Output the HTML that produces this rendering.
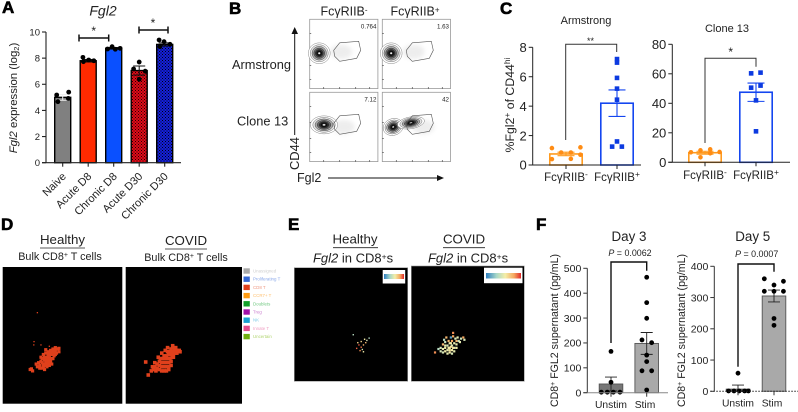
<!DOCTYPE html>
<html lang="en">
<head>
<meta charset="utf-8">
<title>Fgl2 figure</title>
<style>
html,body{margin:0;padding:0;background:#fff;width:798px;height:412px;overflow:hidden}
svg{display:block;filter:blur(.3px)}
text{font-family:"Liberation Sans",sans-serif;fill:#222}
.tag{font-weight:bold;font-size:17px;fill:#000;stroke:#000;stroke-width:.6px}
.mid{text-anchor:middle}
.i{font-style:italic}
</style>
</head>
<body>
<svg id="fig" xmlns="http://www.w3.org/2000/svg" width="798" height="412" viewBox="0 0 798 412">
<defs>
<pattern id="hatch-red" width="3" height="3" patternUnits="userSpaceOnUse"><rect width="3" height="3" fill="#e00a18"/><rect width="1" height="1" fill="#200"/><rect x="1.500" y="1.500" width="1" height="1" fill="#200"/></pattern>
<pattern id="hatch-blue" width="3" height="3" patternUnits="userSpaceOnUse"><rect width="3" height="3" fill="#1420d8"/><rect width="1" height="1" fill="#001"/><rect x="1.500" y="1.500" width="1" height="1" fill="#001"/></pattern>
<linearGradient id="expr-grad"><stop offset="0" stop-color="#2f7fc0"/><stop offset=".3" stop-color="#a8d8c8"/><stop offset=".55" stop-color="#f4eea8"/><stop offset=".8" stop-color="#f5a860"/><stop offset="1" stop-color="#e02a2a"/></linearGradient>
<filter id="soft" x="-20%" y="-20%" width="140%" height="140%"><feGaussianBlur stdDeviation="0.2"/></filter>
<filter id="softer" x="-30%" y="-30%" width="160%" height="160%"><feGaussianBlur stdDeviation="2"/></filter>
</defs>

<!-- Panel A text -->
<text class="tag" x="2" y="13">A</text>
<text class="i mid" x="103" y="15.500" font-size="14">Fgl2</text>
<text transform="translate(17,98) rotate(-90)" class="mid" font-size="11.400"><tspan class="i">Fgl2</tspan> expression (log<tspan font-size="7.500" dy="2">2</tspan><tspan dy="-2">)</tspan></text>
<path d="M79 34.500V41.500M79 38H108.700M108.700 34.500V41.500M139 26.500V33.500M139 30H168M168 26.500V33.500" fill="none" stroke="#111" stroke-width="1.500"/>
<text class="mid" x="93.700" y="35" font-size="12">*</text>
<text class="mid" x="153" y="27" font-size="12">*</text>

<!-- Panel B text -->
<text class="tag" x="229" y="14">B</text>
<text class="mid" x="344" y="15.500" font-size="12.500">FcγRIIB<tspan font-size="8" dy="-3">-</tspan></text>
<text class="mid" x="415" y="15.500" font-size="12.500">FcγRIIB<tspan font-size="8" dy="-3">+</tspan></text>
<text x="232" y="69" font-size="12.800">Armstrong</text>
<text x="237" y="125.500" font-size="12.800">Clone 13</text>
<text transform="translate(299,170) rotate(-90)" font-size="12.900">CD44</text>
<text x="297" y="182" font-size="12.500">Fgl2</text>
<path d="M294.700 135V33" stroke="#111" stroke-width="1" fill="none"/>
<path d="M294.700 27L291.500 34H298Z" fill="#111"/>
<path d="M328 178H438" stroke="#111" stroke-width="1" fill="none"/>
<path d="M444 178L437 175V181Z" fill="#111"/>

<!-- Panel C text -->
<text class="tag" x="500" y="14">C</text>
<text class="mid" x="586" y="24" font-size="11">Armstrong</text>
<text class="mid" x="727" y="32" font-size="11">Clone 13</text>
<text transform="translate(514,105) rotate(-90)" class="mid" font-size="12.300">%Fgl2<tspan font-size="8.500" dy="-4">+</tspan><tspan dy="4"> of CD44</tspan><tspan font-size="8.500" dy="-4">hi</tspan></text>
<path d="M565.700 140V44.300H616.700V52" fill="none" stroke="#333" stroke-width="1"/>
<text class="mid" x="590.500" y="44" font-size="9">**</text>
<path d="M705 143V58.300H756V66.700" fill="none" stroke="#333" stroke-width="1"/>
<text class="mid" x="730.700" y="56" font-size="12">*</text>

<!-- Panel D text -->
<text class="tag" x="1" y="230">D</text>
<text class="mid" x="62.500" y="244" font-size="13.300">Healthy</text>
<path d="M40 248H85" stroke="#222" stroke-width=".8"/>
<text class="mid" x="60" y="260" font-size="10.800">Bulk CD8<tspan font-size="7" dy="-3">+</tspan><tspan dy="3"> T cells</tspan></text>
<text class="mid" x="186" y="245" font-size="13.300">COVID</text>
<path d="M165 249H207" stroke="#222" stroke-width=".8"/>
<text class="mid" x="186" y="261" font-size="10.800">Bulk CD8<tspan font-size="7" dy="-3">+</tspan><tspan dy="3"> T cells</tspan></text>
<rect x="2.700" y="267" width="119.600" height="136.700" fill="#000"/>
<rect x="125.700" y="267" width="116.300" height="136.700" fill="#000"/>

<!-- Panel E text -->
<text class="tag" x="288" y="230">E</text>
<text class="mid" x="355" y="243.700" font-size="13.300">Healthy</text>
<path d="M333 247.700H378" stroke="#222" stroke-width=".8"/>
<text class="mid" x="353" y="262.700" font-size="13"><tspan class="i">Fgl2</tspan> in CD8<tspan font-size="8.500" dy="-3">+</tspan><tspan dy="3">s</tspan></text>
<text class="mid" x="464" y="243.700" font-size="13.300">COVID</text>
<path d="M443 247.700H485" stroke="#222" stroke-width=".8"/>
<text class="mid" x="468" y="262.700" font-size="13"><tspan class="i">Fgl2</tspan> in CD8<tspan font-size="8.500" dy="-3">+</tspan><tspan dy="3">s</tspan></text>
<rect x="294.300" y="267.700" width="113.400" height="113.600" fill="#000" stroke="#999" stroke-width=".6"/>
<rect x="411.300" y="266" width="113" height="115.300" fill="#000" stroke="#999" stroke-width=".6"/>
<rect x="382.700" y="270" width="22.500" height="13.500" fill="#fff"/>
<rect x="384" y="274" width="20" height="5" fill="url(#expr-grad)"/>
<rect x="484" y="267.700" width="38.500" height="15.500" fill="#fff"/>
<rect x="486" y="273" width="35" height="5.500" fill="url(#expr-grad)"/>

<!-- Panel F text -->
<text class="tag" x="536" y="230">F</text>
<text class="mid" x="629" y="241" font-size="13.400">Day 3</text>
<text class="mid" x="752.700" y="241" font-size="13.400">Day 5</text>
<text class="mid" x="630" y="256" font-size="8.900"><tspan class="i">P</tspan> = 0.0062</text>
<text class="mid" x="756.700" y="257" font-size="8.900"><tspan class="i">P</tspan> = 0.0007</text>
<path d="M611 343V262H646.700V270.700" fill="none" stroke="#111" stroke-width="1.400"/>
<path d="M738 366.700V264H774V271.700" fill="none" stroke="#111" stroke-width="1.400"/>
<text transform="translate(558,330.500) rotate(-90)" class="mid" font-size="10.600">CD8<tspan font-size="7" dy="-3">+</tspan><tspan dy="3"> FGL2 supernatant (pg/mL)</tspan></text>
<text transform="translate(685,330.500) rotate(-90)" class="mid" font-size="10.600">CD8<tspan font-size="7" dy="-3">+</tspan><tspan dy="3"> FGL2 supernatant (pg/mL)</tspan></text>

<script>
// ---------- Panel A data ----------
var aCategories = ['Naive', 'Acute D8', 'Chronic D8', 'Acute D30', 'Chronic D30'];
var aMeans = [5.0, 7.8, 8.75, 7.05, 9.05];
var aErrors = [0.22, 0.1, 0.06, 0.35, 0.12];
var aPoints = [[5.18, 5.4, 4.67, 4.92], [8.06, 7.73, 7.86, 7.8], [8.88, 8.7, 8.68, 8.75], [7.7, 7.17, 6.38, 7.0], [9.39, 9.26, 9.06, 8.88]];
var aSwarm = [[-0.75, 0.75, -0.6, 0.7], [-0.66, -0.6, 0.06, 0.7], [-0.2, -0.77, 0.2, 0.8], [0, -0.7, 0, 0.75], [-0.7, -0.08, 0.66, -0.6]];
var aTicks = [0, 2, 4, 6, 8, 10];

// ---------- Panel C data ----------
var cCategories = ['FcγRIIB', 'FcγRIIB'];
var cCategorySigns = ['-', '+'];
var armMeans = [0.75, 4.2];
var armErrors = [0.12, 0.9];
var armPoints = [[1.15, 1.2, 0.85, 0.85, 0.7, 0.4, 0.42], [7.2, 6.96, 5.92, 5.19, 4.44, 1.6, 1.25, 1.25]];
var armSwarm = [[-0.87, 0.89, -0.3, 0.3, 0.89, -0.87, 0.3], [0, 0, 0, 0, 0, 0, -0.3, 0.3]];
var armTicks = [0, 2, 4, 6, 8];
var cloneMeans = [6.5, 47.5];
var cloneErrors = [1, 6.2];
var clonePoints = [[6.8, 8.1, 8.8, 7, 6.1, 3.4], [60.3, 60.8, 52, 50.6, 42, 21]];
var cloneSwarm = [[-0.87, -0.28, 0.32, 0.9, 0.32, -0.28], [-0.3, 0.28, 0.28, -0.3, 0, 0]];
var cloneTicks = [0, 20, 40, 60, 80];

// ---------- Panel F data ----------
var fCategories = ['Unstim', 'Stim'];
var day3Means = [35, 198];
var day3Errors = [28, 44];
var day3Points = [[166, 42, 2, 2, 2, 2], [464, 362, 299, 212, 201, 151, 125, 88, 88, 11]];
var day3Swarm = [[0, 0, -0.82, -0.31, 0.2, 0.76], [0, 0, 0, -0.4, 0.42, 0, 0, -0.4, 0.42, 0]];
var day3Ticks = [0, 100, 200, 300, 400, 500];
var day5Means = [7, 305];
var day5Errors = [13, 19];
var day5Points = [[58, 1, 1, 1, 1, 1], [360, 352, 340, 320, 320, 320, 233, 211]];
var day5Swarm = [[0, -0.8, -0.34, 0.1, 0.56, 0.88], [-0.82, 0.8, 0, -0.82, 0, 0.8, 0, 0]];
var day5Ticks = [0, 100, 200, 300, 400];

// ---------- Panel B data ----------
var flowGatePercents = ['0.764', '1.63', '7.12', '42'];
var flowPanelColumns = [0, 1, 0, 1];
var flowPanelRows = [0, 0, 1, 1];
var flowClusterPanels = [0, 1, 2, 3, 3];
var flowClusterX = [14, 13, 21, 16, 42];
var flowClusterY = [49, 49, 47, 50, 44];
var flowClusterRx = [16, 16, 20, 15, 20];
var flowClusterRy = [15, 15, 13, 12, 8.5];
var flowClusterTilt = [0, 0, 0, -18, -10];
var flowTailX = [46, 46, 50, 60];
var flowTailY = [47, 47, 50, 50];

// ---------- Panel D data (UMAP coordinates) ----------
var legendLabels = ['Unassigned', 'Proliferating T', 'CD8 T', 'CCR7+ T', 'Doublets', 'Treg', 'NK', 'Innate T', 'Uncertain'];
var legendColors = ['#aaaaaa', '#3568d4', '#e0401c', '#ff9a10', '#12a02a', '#a010a8', '#18a0d0', '#e04c8c', '#70b010'];
var legendTextColors = ['#cfcfcf', '#8aa8ea', '#ef9a85', '#ffc070', '#70c880', '#cc80d0', '#80cce8', '#f0a0c4', '#b0d470'];
var healthyCells = [[23,75],[25,76],[24,74.5],[29,73],[31,72],[33,74],[35,75],[37,73],[39,72],[41,71],[30,70],[32,69],[34,71],[36,70],[38,69],[40,68],[42,67],[33,67],[35,66],[37,66],[39,65],[41,64],[43,63],[36,63],[38,62],[40,61],[42,60],[44,61],[46,60],[47,62],[45,63],[43,65],[41,67],[34,64],[36,60.5],[28,71],[32,66],[47,59.5],[44,59],[31,74],[34,73],[36,72],[38,71],[40,70],[37,68],[39,67],[35,68],[33,70],[38,64],[40,63],[42,62],[44,64]];
var healthyStrayCells = [[29,33.4],[26.2,54.6],[26,57],[32,57],[39,58]];
var covidCells = [[19.4,79],[17.2,69.5],[22,76],[24,75],[26,76],[23,73],[25,73],[27,74],[29,75],[31,76],[33,76],[35,76],[37,75],[27,71],[29,72],[31,73],[33,73],[35,73],[37,73],[39,72],[29,69],[31,70],[33,70],[35,70],[37,70],[39,69],[30,67],[32,67],[34,67],[36,67],[38,67],[40,66],[33,65],[35,65],[37,64],[39,64],[41,64],[43,63],[36,62],[38,62],[40,62],[42,61],[44,61],[46,61],[46.7,62],[44,63],[41,66],[39,60],[41,59],[40.4,57.6],[43,59],[36,59],[34,61],[31,63],[28,66],[25,70]];

// ---------- Panel E data (coordinates and expression level) ----------
var exprHealthyCells = [[52,59],[59,65],[62,63],[57,68],[59,70],[61,68],[55,71],[63,66],[58,73],[60,72],[66,62],[64,64],[56,66],[61,74]];
var exprHealthyLevels = [0.3, 0.6, 0.5, 0.9, 0.85, 0.7, 0.9, 0.7, 0.8, 0.4, 0.3, 0.4, 0.6, 0.5];
var exprCovidCells = [[21,75],[24,72],[26,71],[28,68],[30,66],[26,74],[28,72],[30,71],[32,69],[34,67],[36,65],[28,75],[30,74],[32,73],[34,71],[36,69],[38,67],[40,65],[32,76],[34,75],[36,73],[38,71],[40,68],[42,65],[36,76],[38,74],[40,71],[34,73],[30,69],[33,65],[35,62],[37,61],[39,63],[41,62],[44,63],[46,62],[47,64],[43,66],[37,58],[31,62],[29,64],[35,70],[33,71],[37,71],[35,67]];
var exprCovidLevels = [0.8, 0.3, 0.4, 0.7, 0.35, 0.4, 0.45, 0.5, 0.4, 0.45, 0.75, 0.4, 0.5, 0.45, 0.5, 0.4, 0.45, 0.7, 0.45, 0.5, 0.5, 0.4, 0.45, 0.35, 0.4, 0.45, 0.5, 0.55, 0.45, 0.7, 0.1, 0.75, 0.4, 0.45, 0.35, 0.75, 0.4, 0.45, 0.8, 0.7, 0.3, 0.55, 0.5, 0.55, 0.5];
var exprStops = [[47,127,192],[168,216,200],[244,238,168],[245,168,96],[224,42,42]];

// ---------- helpers ----------
var svg = document.getElementById('fig');
var NS = 'http://www.w3.org/2000/svg';
function el(tag, parent, attrs) {
  var n = document.createElementNS(NS, tag);
  for (var k in attrs) { n.setAttribute(k, attrs[k]); }
  parent.appendChild(n);
  return n;
}
function linear(d0, d1, r0, r1) {
  return function (v) { return r0 + (v - d0) * (r1 - r0) / (d1 - d0); };
}
function exprColor(v) {
  var p = v * (exprStops.length - 1);
  var i = Math.min(Math.floor(p), exprStops.length - 2);
  var t = p - i;
  var a = exprStops[i], b = exprStops[i + 1];
  return 'rgb(' + [0, 1, 2].map(function (c) { return Math.round(a[c] + (b[c] - a[c]) * t); }).join(',') + ')';
}

function drawBars(c) {
  var g = el('g', svg, {});
  
  
  var y = c.y;
  c.means.forEach(function (m, i) {
    var cx = c.centers(i);
    var bar = el('rect', g, { x: cx - c.half, y: y(m), width: c.half * 2, height: y(0) - y(m), fill: c.fills[i], stroke: c.strokes[i], 'stroke-width': c.barStroke });
    
    
    var err = el('path', g, { d: 'M' + cx + ' ' + y(m + c.errors[i]) + 'V' + y(Math.max(0, m - c.errors[i])) + 'M' + (cx - c.cap) + ' ' + y(m + c.errors[i]) + 'H' + (cx + c.cap) + 'M' + (cx - c.cap) + ' ' + y(Math.max(0, m - c.errors[i])) + 'H' + (cx + c.cap), fill: 'none', stroke: c.errColors[i], 'stroke-width': c.errWidth });
    
    
    c.points[i].forEach(function (v, j) {
      var px = cx + c.swarm[i][j] * c.half;
      var p;
      if (c.markers[i] === 'square') {
        p = el('rect', g, { x: px - c.size, y: y(v) - c.size, width: c.size * 2, height: c.size * 2, fill: c.pointColors[i] });
      } else {
        p = el('circle', g, { cx: px, cy: y(v), r: c.size, fill: c.pointColors[i] });
      }
      
      
    });
  });
  var ax = el('path', g, { d: 'M' + c.axisX + ' ' + y(c.ticks[c.ticks.length - 1]) + 'V' + y(0), fill: 'none', stroke: c.axisColor, 'stroke-width': c.axisWidth });
  
  
  var xa = el('path', g, { d: 'M' + (c.axisX - 4) + ' ' + y(0) + 'H' + c.axisEnd, fill: 'none', stroke: c.xAxisColor, 'stroke-width': c.axisWidth, 'stroke-dasharray': c.xDash || 'none' });
  
  
  c.ticks.forEach(function (t) {
    var tk = el('path', g, { d: 'M' + (c.axisX - 4) + ' ' + y(t) + 'H' + c.axisX, stroke: c.axisColor, 'stroke-width': c.axisWidth });
    
    
    var lb = el('text', g, { x: c.axisX - 6, y: y(t) + c.tickSize * 0.36, 'text-anchor': 'end', 'font-size': c.tickSize });
    lb.textContent = t;
    
    
  });
  c.means.forEach(function (m, i) {
    var cx = c.centers(i);
    var tk = el('path', g, { d: 'M' + cx + ' ' + y(0) + 'v4', stroke: c.axisColor, 'stroke-width': c.axisWidth });
    
    
  });
}

// ---------- Panel A ----------
var yA = linear(0, 10, 162.7, 32);
var xA = linear(0, 4, 62.7, 164.7);
drawBars({ name: 'panel-a-bar-chart', short: 'a', y: yA, centers: xA, half: 8, means: aMeans, errors: aErrors, points: aPoints, swarm: aSwarm, ticks: aTicks,
  fills: ['#808080', '#ff2a00', '#0a50ff', 'url(#hatch-red)', 'url(#hatch-blue)'], strokes: ['#000','#000','#000','#000','#000'], barStroke: 1.4,
  errColors: ['#eee','#111','#111','#111','#111'], errWidth: 1, cap: 6, markers: ['c','c','c','c','c'], pointColors: ['#000','#000','#000','#000','#000'], size: 2.4,
  axisX: 46, axisEnd: 181, axisColor: '#222', xAxisColor: '#222', axisWidth: 1.1, tickSize: 9.5 });
aCategories.forEach(function (name, i) {
  var t = el('text', svg, { transform: 'translate(' + (xA(i) + 4) + ',177) rotate(-45)', 'text-anchor': 'end', 'font-size': 11 });
  t.textContent = name;
  
  
});

// ---------- Panel C ----------
var orangeBlueFill = ['#ffffff', '#ffffff'];
var orangeBlueStroke = ['#ff9a1e', '#1446f0'];
var orangeBlueDots = ['#ff8c14', '#0c3ae0'];
var yArm = linear(0, 8, 165, 47.3);
var xArm = linear(0, 1, 566, 617);
drawBars({ name: 'armstrong-bar-chart', short: 'armstrong', y: yArm, centers: xArm, half: 16.2, means: armMeans, errors: armErrors, points: armPoints, swarm: armSwarm, ticks: armTicks,
  fills: orangeBlueFill, strokes: orangeBlueStroke, barStroke: 1.6, errColors: orangeBlueStroke, errWidth: 1.1, cap: 8.5, markers: ['c', 'square'], pointColors: orangeBlueDots, size: 2.3,
  axisX: 532.7, axisEnd: 641, axisColor: '#222', xAxisColor: '#222', axisWidth: 1, tickSize: 13 });
var yClone = linear(0, 80, 162.3, 44.3);
var xClone = linear(0, 1, 705, 756);
drawBars({ name: 'clone-13-bar-chart', short: 'clone-13', y: yClone, centers: xClone, half: 16.2, means: cloneMeans, errors: cloneErrors, points: clonePoints, swarm: cloneSwarm, ticks: cloneTicks,
  fills: orangeBlueFill, strokes: orangeBlueStroke, barStroke: 1.6, errColors: orangeBlueStroke, errWidth: 1.1, cap: 8.5, markers: ['c', 'square'], pointColors: orangeBlueDots, size: 2.3,
  axisX: 672.3, axisEnd: 790, axisColor: '#222', xAxisColor: '#222', axisWidth: 1, tickSize: 13 });
[[xArm, 'armstrong', 181], [xClone, 'clone-13', 179]].forEach(function (s) {
  cCategories.forEach(function (name, i) {
    var t = el('text', svg, { x: s[0](i), y: s[2], 'text-anchor': 'middle', 'font-size': 11.5 });
    t.textContent = name;
    var sup = el('tspan', t, { 'font-size': 8.5, dy: -4 });
    sup.textContent = cCategorySigns[i];
    
    
  });
});

// ---------- Panel F ----------
var yD3 = linear(0, 500, 392.7, 268.3);
var xD3 = linear(0, 1, 611, 646.7);
drawBars({ name: 'day-3-bar-chart', short: 'day-3', y: yD3, centers: xD3, half: 11.8, means: day3Means, errors: day3Errors, points: day3Points, swarm: day3Swarm, ticks: day3Ticks,
  fills: ['#777777', '#a9a9a9'], strokes: ['#555', '#555'], barStroke: 0.9, errColors: ['#222', '#222'], errWidth: 0.9, cap: 6, markers: ['c', 'c'], pointColors: ['#000', '#000'], size: 2.4,
  axisX: 587.3, axisEnd: 668, axisColor: '#333', xAxisColor: '#888', axisWidth: 1, tickSize: 10.5 });
var yD5 = linear(0, 400, 391.3, 266.3);
var xD5 = linear(0, 1, 738, 774);
drawBars({ name: 'day-5-bar-chart', short: 'day-5', y: yD5, centers: xD5, half: 11.8, means: day5Means, errors: day5Errors, points: day5Points, swarm: day5Swarm, ticks: day5Ticks,
  fills: ['#777777', '#a9a9a9'], strokes: ['#555', '#555'], barStroke: 0.9, errColors: ['#222', '#222'], errWidth: 0.9, cap: 6, markers: ['c', 'c'], pointColors: ['#000', '#000'], size: 2.4,
  axisX: 714.3, axisEnd: 798, axisColor: '#333', xAxisColor: '#222', axisWidth: 1, xDash: '1.5 1.5', tickSize: 10.5 });
[[611, 408, 0, 'day-3'], [645, 408, 1, 'day-3'], [738, 406.7, 0, 'day-5'], [772, 406.7, 1, 'day-5']].forEach(function (s) {
  var t = el('text', svg, { x: s[0], y: s[1], 'text-anchor': 'middle', 'font-size': 10.3 });
  t.textContent = fCategories[s[2]];
  
  
});

// ---------- Panel B ----------
var flowLeft = [309.7, 382.3];
var flowTop = [19.3, 92.3];
var flowW = 68.2;
var flowH = 69.3;
var flowSx = linear(0, 100, 0, flowW);
var flowSy = linear(0, 100, 0, flowH);
var gatePath = 'M24 31L30 23.500L49 22L51 31L47 39L30 42L25 37Z';
flowGatePercents.forEach(function (pct, p) {
  var g = el('g', svg, { transform: 'translate(' + flowLeft[flowPanelColumns[p]] + ',' + flowTop[flowPanelRows[p]] + ')' });
  
  
  var box = el('rect', g, { width: flowW, height: flowH, fill: '#fff', stroke: '#999', 'stroke-width': 0.8 });
  
  
  [14, 30, 46, 60].forEach(function (d) {
    var tk = el('path', g, { d: 'M0 ' + d + 'h1.5M' + d + ' ' + flowH + 'v-1.5', stroke: '#333', 'stroke-width': 0.7 });
    
    
  });
  var tail = el('ellipse', g, { cx: flowSx(flowTailX[p]), cy: flowSy(flowTailY[p]), rx: 11, ry: 7, fill: '#cccccc', opacity: 0.35, filter: 'url(#softer)' });
  
  
  var contours = el('g', g, { filter: 'url(#soft)' });
  
  
  var levels = [1, 0.82, 0.66, 0.5, 0.36, 0.24, 0.12];
  var fills = ['#ffffff', '#e4e4e4', '#a8a8a8', '#666', '#333', '#111', '#f0f0f0'];
  var strokes = ['#777', '#666', '#444', '#333', '#222', '#111', '#111'];
  flowClusterPanels.forEach(function (panel, k) {
    if (panel !== p) { return; }
    levels.forEach(function (lv, li) {
      var cx = flowSx(flowClusterX[k]), cy = flowSy(flowClusterY[k]);
      var ring = el('ellipse', contours, { cx: cx, cy: cy, rx: flowSx(flowClusterRx[k]) * lv, ry: flowSy(flowClusterRy[k]) * lv, fill: fills[li], stroke: strokes[li], 'stroke-width': 0.45, transform: 'rotate(' + flowClusterTilt[k] + ' ' + cx + ' ' + cy + ')' });
      
      
    });
  });
  var gate = el('path', g, { d: gatePath, fill: 'none', stroke: '#555', 'stroke-width': 0.6 });
  
  
  var lab = el('text', g, { x: flowW - 1.5, y: 9, 'text-anchor': 'end', 'font-size': 6.2 });
  lab.textContent = pct;
  
  
});

// ---------- Panel D ----------
function drawCells(cells, left, top, w, h, name, colorFn, size) {
  var sx = linear(0, 100, left, left + w);
  var sy = linear(0, 100, top, top + h);
  var g = el('g', svg, {});
  
  
  cells.forEach(function (c, i) {
    var r = el('rect', g, { x: sx(c[0]) - size / 2, y: sy(c[1]) - size / 2, width: size, height: size, fill: colorFn(i) });
    
    
  });
}
function cd8Color() { return legendColors[2]; }
drawCells(healthyCells, 2.7, 267, 119.6, 136.7, 'healthy-umap-cells', cd8Color, 3.2);
drawCells(healthyStrayCells, 2.7, 267, 119.6, 136.7, 'healthy-umap-stray-cells', cd8Color, 1.3);
drawCells(covidCells, 125.7, 267, 116.3, 136.7, 'covid-umap-cells', cd8Color, 3.6);
var legendY = linear(0, 8, 271, 336.6);
legendLabels.forEach(function (label, i) {
  var sw = el('rect', svg, { x: 243.5, y: legendY(i) - 2.7, width: 6.3, height: 5.4, fill: legendColors[i] });
  
  
  var t = el('text', svg, { x: 253, y: legendY(i) + 1.5, 'font-size': 4.4 });
  t.textContent = label;
  t.style.fill = legendTextColors[i];
  
  
});

// ---------- Panel E ----------
drawCells(exprHealthyCells, 294.3, 267.7, 113.4, 113.6, 'healthy-expression-cells', function (i) { return exprColor(exprHealthyLevels[i]); }, 1.4);
drawCells(exprCovidCells, 411.3, 266, 113, 115.3, 'covid-expression-cells', function (i) { return exprColor(exprCovidLevels[i]); }, 2.2);
</script>
</svg>
</body>
</html>
